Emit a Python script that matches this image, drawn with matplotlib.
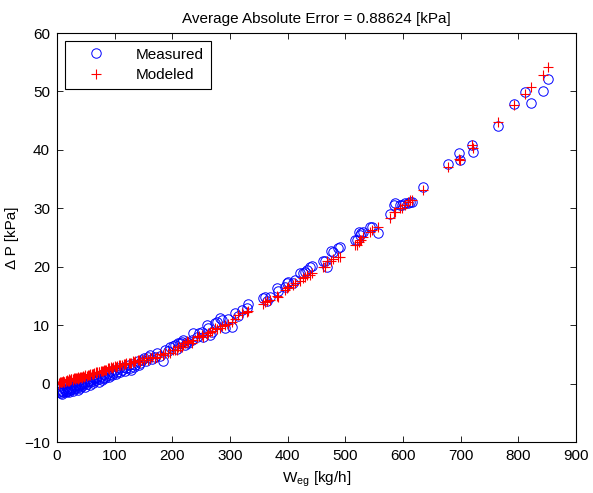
import matplotlib
matplotlib.use("Agg")
import matplotlib.pyplot as plt

plt.rcParams['font.family'] = ['Liberation Sans', 'DejaVu Sans']
plt.rcParams['mathtext.fontset'] = 'custom'
plt.rcParams['mathtext.rm'] = 'Liberation Sans'
plt.rcParams['mathtext.it'] = 'Liberation Sans:italic'

# Mass flow W_eg [kg/h]
w_eg = [3, 5, 7, 9, 11, 13, 15, 17, 19, 21, 23, 25, 27, 29, 31, 33, 35, 37, 39, 41,
        43, 45, 47, 49, 52, 55, 57, 60, 62, 65, 68, 70, 73, 76, 79, 82, 85, 88, 91, 94,
        97, 100, 104, 108, 112, 116, 120, 124, 128, 132, 136, 140,
        4, 8, 12, 16, 20, 24, 28, 32, 36, 40, 44, 48, 53, 58, 63, 67, 72, 78, 84, 90,
        96, 102, 110, 118, 126, 134, 142, 148, 155, 165, 178, 192, 201, 226, 246, 266, 278, 297,
        144, 150, 158, 161, 170, 173, 184, 187, 196, 205, 208, 210, 213, 216, 219, 222,
        228, 234, 236, 242, 251, 254, 260, 262, 268, 274, 283, 286, 291, 303, 309, 314,
        320, 330, 332, 358, 361, 364, 369, 381, 384, 395, 398, 401, 410, 413,
        421, 427, 430, 433, 439, 442, 462, 465, 468, 476, 478, 488, 490, 517, 520, 523,
        525, 528, 531, 543, 546, 557, 578, 584, 586, 594, 598, 603, 608, 612, 615, 634,
        678, 697, 698, 719, 722, 764, 792, 811, 822, 842, 852]

# Measured pressure drop [kPa]
dp_measured = [-1.5, -1.3, -1.6, -1.2, -1.4, -1.0, -1.3, -0.9, -1.2, -0.7, -1.1, -0.6, -1.0, -0.5, -0.8, -0.3, -0.7, -0.2, -0.5, 0.0,
               -0.4, 0.2, -0.1, 0.3, 0.0, 0.5, 0.2, 0.7, 0.4, 0.9, 0.6, 1.1, 0.8, 1.3, 1.0, 1.6, 1.3, 1.8, 1.5, 2.1,
               1.8, 2.3, 2.0, 2.6, 2.4, 2.9, 2.7, 3.2, 2.3, 3.4, 3.2, 3.9,
               -1.0, -1.7, -0.8, -1.5, -1.4, -0.9, -1.3, -0.5, -1.1, -0.8, -0.1, -0.6, 0.4, -0.2, 0.1, 1.0, 0.3, 0.6, 1.0, 1.2,
               1.4, 1.7, 2.0, 2.2, 2.6, 2.9, 3.1, 4.0, 3.9, 4.2, 4.7, 5.6, 6.5, 7.2, 8.7, 8.3, 10.6, 11.0,
               3.5, 4.3, 4.6, 4.9, 4.6, 5.2, 3.8, 5.7, 6.3, 6.6, 6.0, 6.9, 6.9, 7.2, 7.5, 6.6,
               6.9, 7.5, 8.6, 8.0, 8.9, 8.0, 10.0, 9.5, 8.9, 10.3, 11.2, 10.9, 9.5, 9.7, 12.0, 11.5,
               12.6, 13.0, 13.7, 14.6, 14.8, 14.2, 14.9, 16.3, 15.8, 16.6, 17.2, 17.4, 17.2, 17.7,
               18.9, 18.9, 19.1, 19.4, 20.0, 20.2, 20.9, 20.9, 20.0, 22.7, 22.6, 23.2, 23.3, 24.6, 24.6, 26.0,
               25.4, 25.8, 26.0, 26.8, 26.85, 25.7, 29.0, 30.6, 30.85, 30.6, 30.5, 30.85, 30.85, 31.0, 31.1, 33.6,
               37.5, 39.5, 38.3, 40.8, 39.6, 44.0, 47.8, 49.9, 48.1, 50.1, 52.2]

# Modeled pressure drop [kPa]
dp_modeled = [0.1, 0.2, 0.3, 0.2, 0.4, 0.3, 0.5, 0.6, 0.4, 0.7, 0.6, 0.8, 0.7, 0.9, 0.8, 1.0, 0.9, 1.1, 1.0, 1.2,
              1.1, 1.3, 1.2, 1.4, 1.3, 1.5, 1.6, 1.7, 1.6, 1.8, 1.9, 2.0, 2.0, 2.2, 2.2, 2.4, 2.4, 2.6, 2.6, 2.8,
              2.8, 3.0, 3.0, 3.2, 3.2, 3.4, 3.5, 3.6, 3.6, 3.8, 3.9, 4.0,
              0.0, 0.3, 0.2, 0.5, 0.5, 0.7, 0.6, 0.9, 0.8, 1.1, 1.0, 1.3, 1.4, 1.5, 1.7, 1.8, 1.9, 2.1, 2.3, 2.5,
              2.7, 2.9, 3.1, 3.3, 3.5, 3.7, 4.0, 4.1, 4.4, 4.6, 5.0, 5.3, 5.8, 7.3, 8.1, 8.9, 9.3, 10.2,
              3.75, 4.0, 4.0, 4.3, 4.3, 4.6, 4.9, 5.2, 5.2, 5.7, 5.7, 6.3, 6.3, 6.3, 6.6, 7.0,
              7.2, 6.9, 7.5, 8.0, 8.3, 8.0, 8.3, 8.6, 9.0, 9.5, 9.5, 9.8, 10.0, 10.6, 11.0, 11.7,
              12.0, 12.3, 12.5, 13.7, 14.0, 14.2, 14.3, 15.0, 14.9, 16.0, 16.3, 16.5, 16.9, 17.2,
              17.6, 18.0, 18.3, 18.6, 18.6, 18.9, 20.0, 20.0, 20.9, 20.9, 21.3, 21.7, 21.7, 23.7, 23.7, 24.3,
              24.6, 24.6, 25.1, 26.0, 26.3, 26.85, 28.3, 29.4, 29.4, 30.0, 30.0, 30.6, 31.0, 31.4, 31.4, 33.1,
              37.0, 38.4, 38.2, 40.8, 40.4, 44.7, 47.6, 49.6, 50.8, 52.8, 54.1]

title_text = "Average Absolute Error = 0.88624 [kPa]"
x_ticks = [0, 100, 200, 300, 400, 500, 600, 700, 800, 900]
y_ticks = [-10, 0, 10, 20, 30, 40, 50, 60]

fig = plt.figure(figsize=(5.93, 4.93), dpi=100)
ax = fig.add_axes([57/593, 51/493, 519/593, 409/493])

ax.plot(w_eg, dp_measured, linestyle='none', marker='o', markersize=6.8,
        markerfacecolor='none', markeredgecolor='#0000ff', markeredgewidth=0.7,
        label='Measured')
ax.plot(w_eg, dp_modeled, linestyle='none', marker='+', markersize=7.8,
        color='#ff0000', markeredgewidth=0.8, label='Modeled')

ax.set_xlim(0, 900)
ax.set_ylim(-10, 60)
ax.set_xticks(x_ticks)
ax.set_yticks(y_ticks)
ax.tick_params(direction='in', top=True, right=True, length=4, width=0.6,
               labelsize=11, colors='black', pad=5)
for s in ax.spines.values():
    s.set_linewidth(0.8)

ax.set_title(title_text, fontsize=11, pad=7)
ax.set_xlabel(r'W$_{\rm eg}$ [kg/h]', fontsize=11, labelpad=5)
ax.set_ylabel('Δ P [kPa]', fontsize=11, labelpad=4)

leg = ax.legend(loc='upper left', fontsize=11, frameon=True, fancybox=False,
                edgecolor='black', framealpha=1, borderpad=0.45, handletextpad=1.0,
                handlelength=3.2, labelspacing=0.45, borderaxespad=0.5)
leg.get_frame().set_linewidth(0.8)

fig.savefig('out.png', dpi=100)
